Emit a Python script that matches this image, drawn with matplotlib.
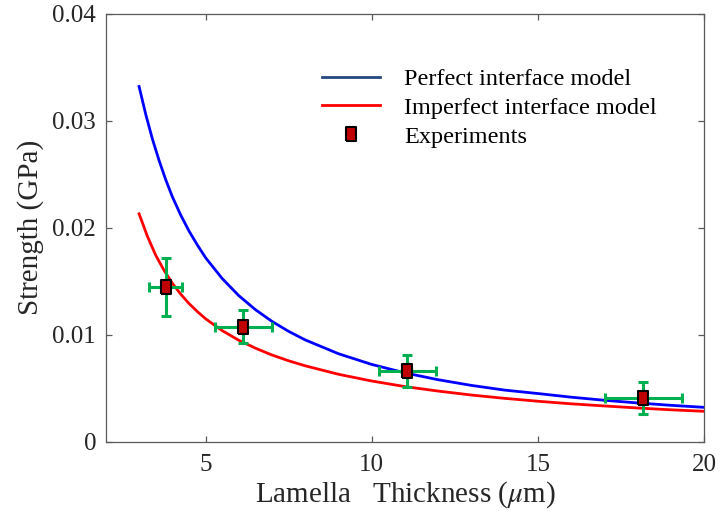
import matplotlib
matplotlib.use("Agg")
import matplotlib.pyplot as plt

plt.rcParams['font.family'] = ['Liberation Serif', 'DejaVu Serif']
plt.rcParams['mathtext.fontset'] = 'stix'

# model curves, values
perfect_x = [3.0, 3.2, 3.4, 3.6, 3.8, 4.0, 4.25, 4.5, 4.75, 5.0, 5.5, 6.0, 6.5, 7.0,
             7.5, 8.0, 9.0, 10.0, 11.0, 12.0, 13.0, 14.0, 15.0, 16.0, 17.0, 18.0,
             19.0, 20.0]
perfect_y = [0.0332, 0.0306, 0.0283, 0.0263, 0.0245, 0.0229, 0.0212, 0.0197, 0.0184,
             0.0172, 0.01525, 0.01365, 0.01234, 0.01124, 0.01031, 0.00951, 0.00822,
             0.00722, 0.00643, 0.00579, 0.00526, 0.00482, 0.0045, 0.00416, 0.00387,
             0.00362, 0.0034, 0.00321]

imperfect_x = [3.0, 3.25, 3.5, 3.75, 4.0, 4.25, 4.5, 4.75, 5.0, 5.5, 6.0, 6.5, 7.0,
               7.5, 8.0, 9.0, 10.0, 11.0, 12.0, 13.0, 14.0, 15.0, 16.0, 17.0, 18.0,
               19.0, 20.0]
imperfect_y = [0.0213, 0.0192, 0.01743, 0.01602, 0.01481, 0.0138, 0.01292, 0.01217,
               0.01149, 0.01038, 0.00948, 0.00874, 0.0081, 0.00756, 0.00709, 0.0063,
               0.00567, 0.00515, 0.00473, 0.00436, 0.00405, 0.00378, 0.00354, 0.00334,
               0.00315, 0.00298, 0.00284]

# experiments
exp_x = [3.80, 6.14, 11.07, 18.17]
exp_y = [0.01449, 0.01075, 0.00664, 0.00405]
exp_xerr = [0.49, 0.86, 0.86, 1.16]
exp_yerr = [0.0027, 0.00155, 0.0015, 0.0015]

rect = [(-0.36, -0.5), (0.36, -0.5), (0.36, 0.5), (-0.36, 0.5), (-0.36, -0.5)]

fig = plt.figure(figsize=(7.2, 5.2), dpi=100)
ax = fig.add_axes([0.147, 0.1506, 0.831, 0.823])

ax.plot(perfect_x, perfect_y, color='#0000ff', lw=2, label='Perfect interface model')
ax.plot(imperfect_x, imperfect_y, color='#ff0000', lw=2, label='Imperfect interface model')
ax.errorbar(exp_x, exp_y, xerr=exp_xerr, yerr=exp_yerr, fmt='none',
            ecolor='#00b050', elinewidth=2.2, capsize=3.8, capthick=2.2, zorder=3)
ax.plot(exp_x, exp_y, ls='none', marker=rect, ms=10, mfc='#c00000', mec='black',
        mew=1.5, zorder=4, label='Experiments')

ax.set_xlim(2, 20)
ax.set_ylim(0, 0.04)
ax.set_xticks([5, 10, 15, 20])
ax.set_yticks([0, 0.01, 0.02, 0.03, 0.04])
ax.set_yticklabels(['0', '0.01', '0.02', '0.03', '0.04'])

for s in ax.spines.values():
    s.set_color('#5a5a5a')
    s.set_linewidth(0.9)
ax.tick_params(direction='in', length=4, width=0.9, color='#5a5a5a',
               top=True, right=True, labelsize=18, labelcolor='#262626')
ax.tick_params(axis='x', pad=9)
ax.tick_params(axis='y', pad=7)

ax.set_xlabel('Lamella   Thickness ($\\mu$m)', fontsize=21, color='#262626', labelpad=2)
ax.set_ylabel('Strength (GPa)', fontsize=21, color='#262626', labelpad=6)

leg = ax.legend(loc='upper left', bbox_to_anchor=(0.362, 0.873), frameon=False,
                fontsize=17.5, borderpad=0, borderaxespad=0, handlelength=2.35,
                handletextpad=1.0, labelspacing=0.28)
leg.legend_handles[0].set_color('#23487f')
for t in leg.get_texts():
    t.set_color('black')

fig.savefig('out.png', dpi=100)
